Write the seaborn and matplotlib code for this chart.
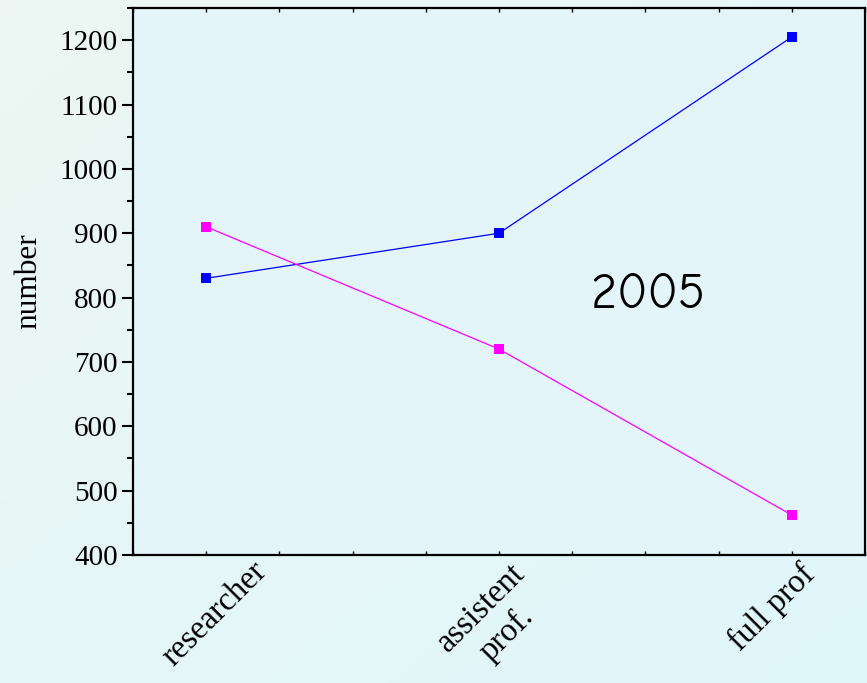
import numpy as np
import pandas as pd
import matplotlib
matplotlib.use("Agg")
import matplotlib.pyplot as plt
import seaborn as sns
from matplotlib.ticker import MultipleLocator, FixedLocator

categories = ["researcher", "assistent\nprof.", "full prof"]
series_blue = [830, 900, 1205]
series_magenta = [910, 720, 462]
yticks = [400, 500, 600, 700, 800, 900, 1000, 1100, 1200]
annotation = "2005"

df = pd.DataFrame({
    "category": categories * 2,
    "value": series_blue + series_magenta,
    "series": ["blue"] * 3 + ["magenta"] * 3,
})

sns.set_style("ticks")
plt.rcParams["font.family"] = ["serif"]
plt.rcParams["font.serif"] = ["Liberation Serif", "Times New Roman", "DejaVu Serif"]
plt.rcParams["text.color"] = "black"
plt.rcParams["axes.labelcolor"] = "black"
plt.rcParams["xtick.color"] = "black"
plt.rcParams["ytick.color"] = "black"

fig = plt.figure(figsize=(8.67, 6.83), dpi=100)

# gradient background
bg = fig.add_axes([0, 0, 1, 1], zorder=-10)
yy, xx = np.mgrid[0:1:200j, 0:1:200j]
t = (xx + (1 - yy)) / 2.0
c0 = np.array([0.93, 0.965, 0.95])
c1 = np.array([0.875, 0.965, 0.985])
img = c0[None, None, :] * (1 - t[..., None]) + c1[None, None, :] * t[..., None]
bg.imshow(img, origin="lower", aspect="auto", extent=[0, 1, 0, 1])
bg.axis("off")

ax = fig.add_axes([133 / 867, 1 - 555 / 683, (865 - 133) / 867, (555 - 8) / 683])
ax.set_facecolor("#e3f5f9")

sns.lineplot(data=df, x="category", y="value", hue="series",
             palette={"blue": "#0000ff", "magenta": "#ff00ff"},
             marker="s", markersize=7, markeredgewidth=0, linewidth=0.9,
             legend=False, ax=ax, sort=False)

ax.set_xlim(-0.25, 2.25)
ax.set_ylim(400, 1250)
ax.set_xticks([0, 1, 2])
ax.set_xticklabels([""] * len(categories))
# category labels, rotated, placed below their ticks
label_offsets = [(9, -59), (-5, -66), (-20, -53)]
for i, (lab, (dx, dy)) in enumerate(zip(categories, label_offsets)):
    ax.annotate(lab, xy=(i, 0), xycoords=ax.get_xaxis_transform(),
                xytext=(dx, dy), textcoords="offset pixels",
                rotation=45, ha="center", va="center", fontsize=23.5,
                multialignment="center", annotation_clip=False)
ax.xaxis.set_minor_locator(FixedLocator([-0.25 + 0.25 * i for i in range(11)]))
ax.set_yticks(yticks)
ax.set_yticklabels([str(v) for v in yticks], fontsize=21)
ax.yaxis.set_minor_locator(MultipleLocator(50))
ax.tick_params(axis="y", which="major", length=8, width=1.5, direction="out", pad=3)
ax.tick_params(axis="y", which="minor", length=4.5, width=1.5, direction="out")
ax.tick_params(axis="x", which="both", length=3, width=1.0, direction="in", top=True)
ax.set_xlabel("")
ax.set_ylabel("number", fontsize=22.5, labelpad=12)
for s in ax.spines.values():
    s.set_linewidth(1.6)
    s.set_color("black")

ax.text(1.51, 803, annotation, fontsize=36, ha="center", va="center",
        family=["Comic Neue", "Lato", "DejaVu Sans"], color="black")

fig.savefig("out.png", dpi=100)
